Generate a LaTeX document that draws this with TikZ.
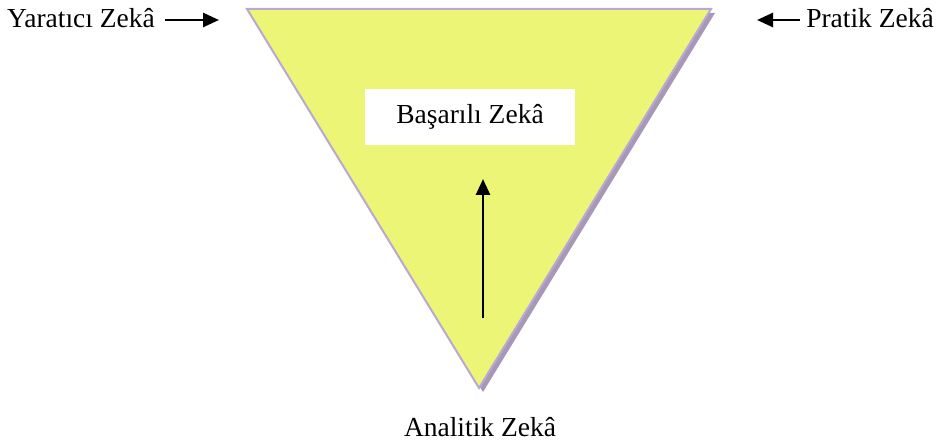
\documentclass[tikz,border=0pt]{standalone}
\usepackage{fontspec}
\setmainfont{Liberation Serif}
\usetikzlibrary{arrows.meta}
\definecolor{triFill}{HTML}{ECF575}
\definecolor{triEdge}{HTML}{B8A8D4}
\definecolor{triShadow}{HTML}{A898B8}
\tikzset{
  lbl/.style={font=\fontsize{27.5}{31}\selectfont, inner sep=0pt},
  arr/.style={line width=2.6pt, -{Triangle[length=16pt,width=14pt]}},
}
\begin{document}
\begin{tikzpicture}[x=1pt,y=-1pt]
\useasboundingbox (0,0) rectangle (938,446);
% shadow
\fill[triShadow] (251,13) -- (715,13) -- (483,392) -- cycle;
% triangle
\filldraw[fill=triFill, draw=triEdge, line width=2pt] (247,9) coordinate (tl) -- (711,9) coordinate (tr) -- (479,388) coordinate (bt) -- cycle;
% white box
\node[fill=white, minimum width=210pt, minimum height=56pt, inner sep=0pt, lbl] (bz) at (470,117) {Başarılı Zekâ};
% labels
\node[lbl, anchor=base west] (yz) at (7,28) {Yaratıcı Zekâ};
\node[lbl, anchor=base east] (pz) at (934,28) {Pratik Zekâ};
\node[lbl, anchor=base] (az) at (480,437) {Analitik Zekâ};
% arrows
\coordinate (ya1) at (165,20);
\coordinate (ya2) at (219,20);
\coordinate (pa1) at (800,20);
\coordinate (pa2) at (757,20);
\coordinate (va1) at (483,318);
\coordinate (va2) at (483,179);
\draw[arr] (ya1) -- (ya2);
\draw[arr] (pa1) -- (pa2);
\draw[arr] (va1) -- (va2);
\end{tikzpicture}
\end{document}
